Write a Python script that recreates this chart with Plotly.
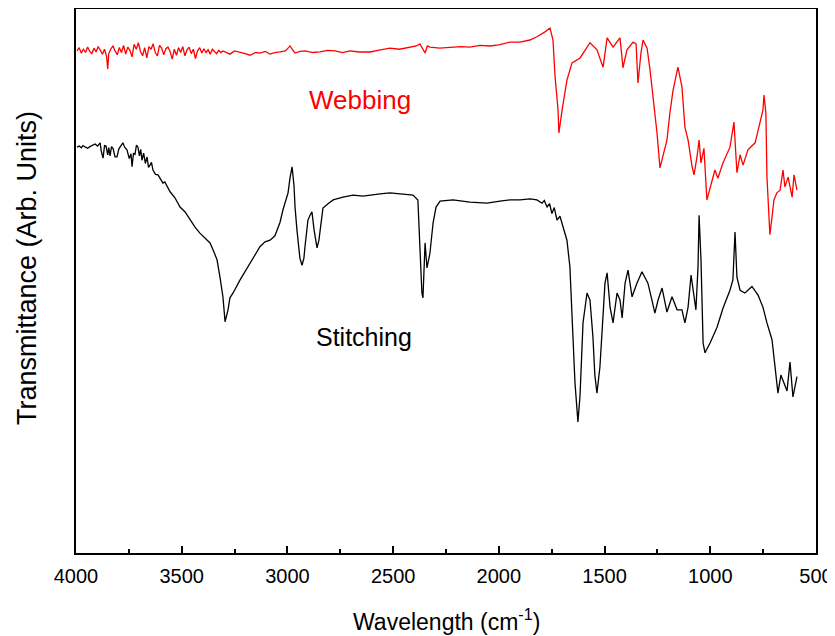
import plotly.graph_objects as go

# Webbing (red) spectrum: wavenumber (cm-1) and transmittance (arb. units, 0-100 of plot height)
web_wn = [3995, 3985, 3975, 3965, 3955, 3945, 3935, 3925, 3915, 3905, 3895, 3885, 3875, 3865, 3855,
          3850, 3845, 3835, 3825, 3815, 3805, 3795, 3785, 3775, 3765, 3755, 3745, 3735, 3725, 3715,
          3705, 3695, 3685, 3675, 3665, 3655, 3645, 3635, 3625, 3615, 3605, 3595, 3585, 3575, 3565,
          3555, 3545, 3535, 3525, 3515, 3505, 3495, 3485, 3475, 3465, 3455, 3445, 3435, 3425, 3415,
          3405, 3395, 3385, 3375, 3365, 3355, 3345, 3335, 3325, 3315, 3305,
          3290, 3272, 3250, 3224, 3200, 3177, 3150, 3130, 3105, 3082, 3060, 3035, 3010, 2995, 2988,
          2975, 2964, 2940, 2917, 2880, 2846, 2810, 2775, 2740, 2704, 2660, 2609, 2560, 2515, 2470,
          2420, 2390, 2373, 2360, 2349, 2338, 2326, 2280, 2231, 2180, 2137, 2090, 2042, 2000, 1947,
          1900, 1853, 1820, 1782, 1758, 1744, 1734,
          1720, 1716, 1701, 1678, 1654, 1616, 1569, 1536, 1507, 1488, 1460, 1427, 1413, 1394, 1365,
          1351, 1342, 1328, 1318, 1299, 1285, 1271, 1252, 1238, 1224, 1205, 1191, 1176, 1153, 1134,
          1120, 1105, 1086, 1077, 1063, 1053, 1044, 1030, 1016, 992, 978, 964, 940, 907, 888,
          874, 859, 845, 822, 788, 765, 751, 746, 737, 732, 722, 718, 708, 699, 685,
          670, 656, 647, 632, 613, 604, 590]
web_t = [92.3, 92.9, 91.9, 92.6, 92.0, 93.0, 92.2, 91.8, 92.8, 92.1, 93.1, 92.4, 91.7, 92.6, 91.2,
         89.0, 91.8, 92.7, 93.2, 92.3, 91.6, 92.9, 92.0, 93.3, 91.7, 93.0, 92.4, 91.2, 93.5, 92.6,
         93.8, 92.2, 91.4, 92.9, 91.0, 93.1, 92.6, 93.6, 92.0, 91.4, 93.3, 92.8, 91.6, 92.7, 93.0,
         92.2, 90.8, 92.6, 91.5, 92.9, 92.0, 93.1, 91.4, 92.5, 93.0, 91.8, 92.6, 90.9, 92.3, 92.9,
         91.9, 92.7, 92.0, 92.5, 91.7, 92.6, 92.2, 91.8, 92.4, 92.0, 92.3,
         92.0, 91.7, 92.3, 92.1, 91.8, 91.5, 92.0, 91.9, 92.2, 91.7, 92.0, 92.1, 92.3, 92.9, 93.2,
         92.5, 91.9, 92.2, 92.3, 92.0, 92.1, 92.4, 92.3, 92.0, 92.3, 92.1, 92.1, 92.5, 92.8, 92.6,
         93.0, 93.2, 93.6, 92.6, 91.9, 93.2, 93.0, 92.8, 93.0, 93.1, 93.0, 93.3, 93.2, 93.4, 93.9,
         93.9, 94.3, 94.9, 95.8, 96.5, 94.3, 87.5,
         81.4, 77.2, 81.4, 86.9, 90.1, 91.0, 93.8, 92.5, 89.3, 94.7, 93.0, 94.7, 89.2, 92.5, 93.9,
         93.6, 86.4, 91.9, 94.3, 92.8, 88.8, 83.8, 77.2, 70.8, 72.8, 75.9, 80.9, 85.1, 89.3, 85.7,
         78.3, 75.9, 71.0, 69.5, 72.8, 75.9, 71.7, 74.4, 64.9, 68.6, 70.4, 68.9, 71.7, 74.6, 79.2,
         69.9, 73.2, 71.3, 74.1, 75.4, 79.0, 81.4, 84.2, 80.9, 69.1, 59.4, 58.5, 61.8, 64.9, 66.2,
         66.7, 70.4, 67.3, 69.1, 65.4, 69.5, 66.7]

# Stitching (black) spectrum
sti_wn = [3995, 3985, 3975, 3967, 3955, 3945, 3934, 3922, 3910, 3898, 3886, 3880, 3872, 3865, 3858,
          3850, 3845, 3839, 3832, 3825, 3815, 3806, 3798, 3792, 3785, 3778, 3770, 3759, 3748, 3740,
          3735, 3728, 3721, 3714, 3707, 3700, 3694, 3688, 3680, 3672, 3664, 3657, 3650, 3643, 3636,
          3624, 3612, 3600, 3589, 3580, 3570, 3555, 3532, 3508, 3484, 3461, 3437, 3414,
          3390, 3366, 3347, 3333, 3319, 3305, 3295, 3281, 3272, 3257, 3224, 3201, 3177, 3153, 3130,
          3106, 3082, 3059, 3035, 3021, 3007, 2997, 2988, 2978, 2969, 2964, 2955, 2950, 2941, 2931,
          2922, 2917, 2903, 2893, 2884, 2874, 2865, 2860, 2851, 2846, 2832, 2808, 2784, 2737, 2690,
          2643, 2609, 2562, 2515, 2468, 2430, 2406, 2383, 2373, 2364, 2359, 2354, 2349, 2340, 2326,
          2311, 2297, 2278, 2217, 2137, 2056, 1995, 1947, 1900, 1853, 1820, 1796, 1785, 1772, 1760,
          1749, 1738, 1725, 1711, 1697, 1678, 1664, 1654, 1640, 1626, 1616, 1602, 1583, 1569, 1555,
          1546, 1536, 1522, 1512, 1498, 1488, 1474, 1460, 1441, 1427, 1417, 1403, 1389, 1370, 1347,
          1323, 1295, 1276, 1262, 1247, 1228, 1205, 1181, 1157, 1134, 1120, 1105, 1091, 1082, 1068,
          1058, 1053, 1044, 1034, 1025, 1001, 968, 940, 907, 893, 883, 874, 859, 836, 803,
          774, 751, 732, 708, 694, 680, 666, 656, 637, 623, 609, 590]
sti_t = [74.6, 74.8, 74.5, 74.9, 74.6, 74.4, 74.7, 75.0, 75.2, 74.8, 75.4, 73.8, 72.6, 74.9, 74.8,
         73.2, 74.5, 73.0, 74.7, 74.4, 72.8, 72.8, 74.2, 74.6, 75.0, 75.4, 74.6, 74.1, 72.5, 73.4,
         71.0, 73.5, 73.3, 75.0, 74.6, 73.0, 74.2, 72.2, 73.5, 71.6, 72.8, 70.9, 71.3, 71.8, 70.4,
         69.6, 69.5, 68.6, 68.0, 68.2, 67.5, 66.4, 65.3, 63.6, 62.7, 61.2, 59.9, 58.8,
         57.9, 57.0, 55.3, 53.9, 50.7, 47.1, 42.5, 44.7, 46.9, 47.8, 50.2, 51.7, 53.3, 54.8, 56.3,
         57.2, 57.5, 58.3, 60.8, 63.1, 64.9, 66.2, 68.9, 71.0, 67.6, 63.6, 59.4, 57.0, 54.2, 52.9,
         54.2, 56.3, 61.2, 62.1, 62.7, 59.4, 56.6, 56.1, 57.5, 59.4, 63.4, 64.2, 64.9, 65.4, 65.8,
         65.6, 65.8, 66.0, 66.2, 66.0, 65.8, 65.8, 64.9, 57.0, 47.8, 46.9, 51.8, 57.0, 52.4, 55.1,
         60.7, 63.6, 64.7, 64.9, 64.5, 64.3, 64.7, 64.9, 64.9, 65.1, 64.9, 64.3, 64.8, 63.6, 64.2,
         62.4, 63.5, 61.2, 61.9, 59.9, 57.5, 52.6, 42.3, 31.3, 24.1, 29.0, 42.3, 47.8, 46.5, 39.7,
         32.7, 29.4, 34.2, 40.4, 49.6, 51.5, 45.2, 42.3, 47.8, 46.5, 43.2, 49.6, 52.0, 47.1, 49.6,
         51.7, 49.6, 46.5, 44.1, 46.5, 48.7, 44.3, 47.1, 44.7, 44.7, 42.3, 45.2, 51.1, 48.3, 44.7,
         52.6, 62.1, 53.9, 38.6, 36.8, 38.6, 41.5, 45.0, 48.3, 50.2, 59.0, 50.7, 48.3, 47.8, 49.0,
         47.4, 45.2, 42.3, 39.2, 34.2, 29.4, 32.7, 31.6, 29.8, 35.1, 28.7, 32.4]

labels = ["Webbing", "Stitching"]
label_wn = [2655, 2640]
label_t = [83.3, 39.7]

FONT = "Liberation Sans, Arial, sans-serif"

fig = go.Figure()
fig.add_trace(go.Scatter(x=web_wn, y=web_t, mode="lines", line=dict(color="#ff0000", width=1.3),
                         name=labels[0], showlegend=False))
fig.add_trace(go.Scatter(x=sti_wn, y=sti_t, mode="lines", line=dict(color="#000000", width=1.3),
                         name=labels[1], showlegend=False))

fig.add_annotation(x=label_wn[0], y=label_t[0], text=labels[0], showarrow=False,
                   font=dict(family=FONT, size=26, color="#ff0000"))
fig.add_annotation(x=label_wn[1], y=label_t[1], text=labels[1], showarrow=False,
                   font=dict(family=FONT, size=25, color="#000000"))

# axis titles as paper-anchored annotations
fig.add_annotation(xref="paper", yref="paper", x=0.5, y=0, yshift=-67, yanchor="middle",
                   text="Wavelength (cm<sup>-1</sup>)", showarrow=False,
                   font=dict(family=FONT, size=23, color="black"))
fig.add_annotation(xref="paper", yref="paper", x=0, xshift=-49, y=0.5, yshift=13,
                   xanchor="center", yanchor="middle", textangle=-90,
                   text="Transmittance (Arb. Units)", showarrow=False,
                   font=dict(family=FONT, size=27, color="black"))

# the page body adds an 8 px offset, so the figure is 8 px smaller than the window
fig.update_layout(
    width=827, height=628,
    margin=dict(l=68, r=19, t=1, b=83, autoexpand=False),
    paper_bgcolor="white", plot_bgcolor="white",
    font=dict(family=FONT, color="black"),
    xaxis=dict(
        range=[4000, 500], autorange=False, automargin=False,
        tickmode="linear", tick0=500, dtick=500,
        ticks="inside", ticklen=7, tickwidth=1.5, tickcolor="black",
        minor=dict(ticks="inside", ticklen=4, tickwidth=1.5, tickcolor="black", dtick=250, tick0=500),
        showline=True, linewidth=2, linecolor="black", mirror=True,
        showgrid=False, zeroline=False,
        tickfont=dict(family=FONT, size=20),
        ticklabelstandoff=4,
    ),
    yaxis=dict(
        range=[0, 100], autorange=False, automargin=False,
        showticklabels=False, ticks="",
        showline=True, linewidth=2, linecolor="black", mirror=True,
        showgrid=False, zeroline=False,
    ),
)

fig.write_html("out.html")
